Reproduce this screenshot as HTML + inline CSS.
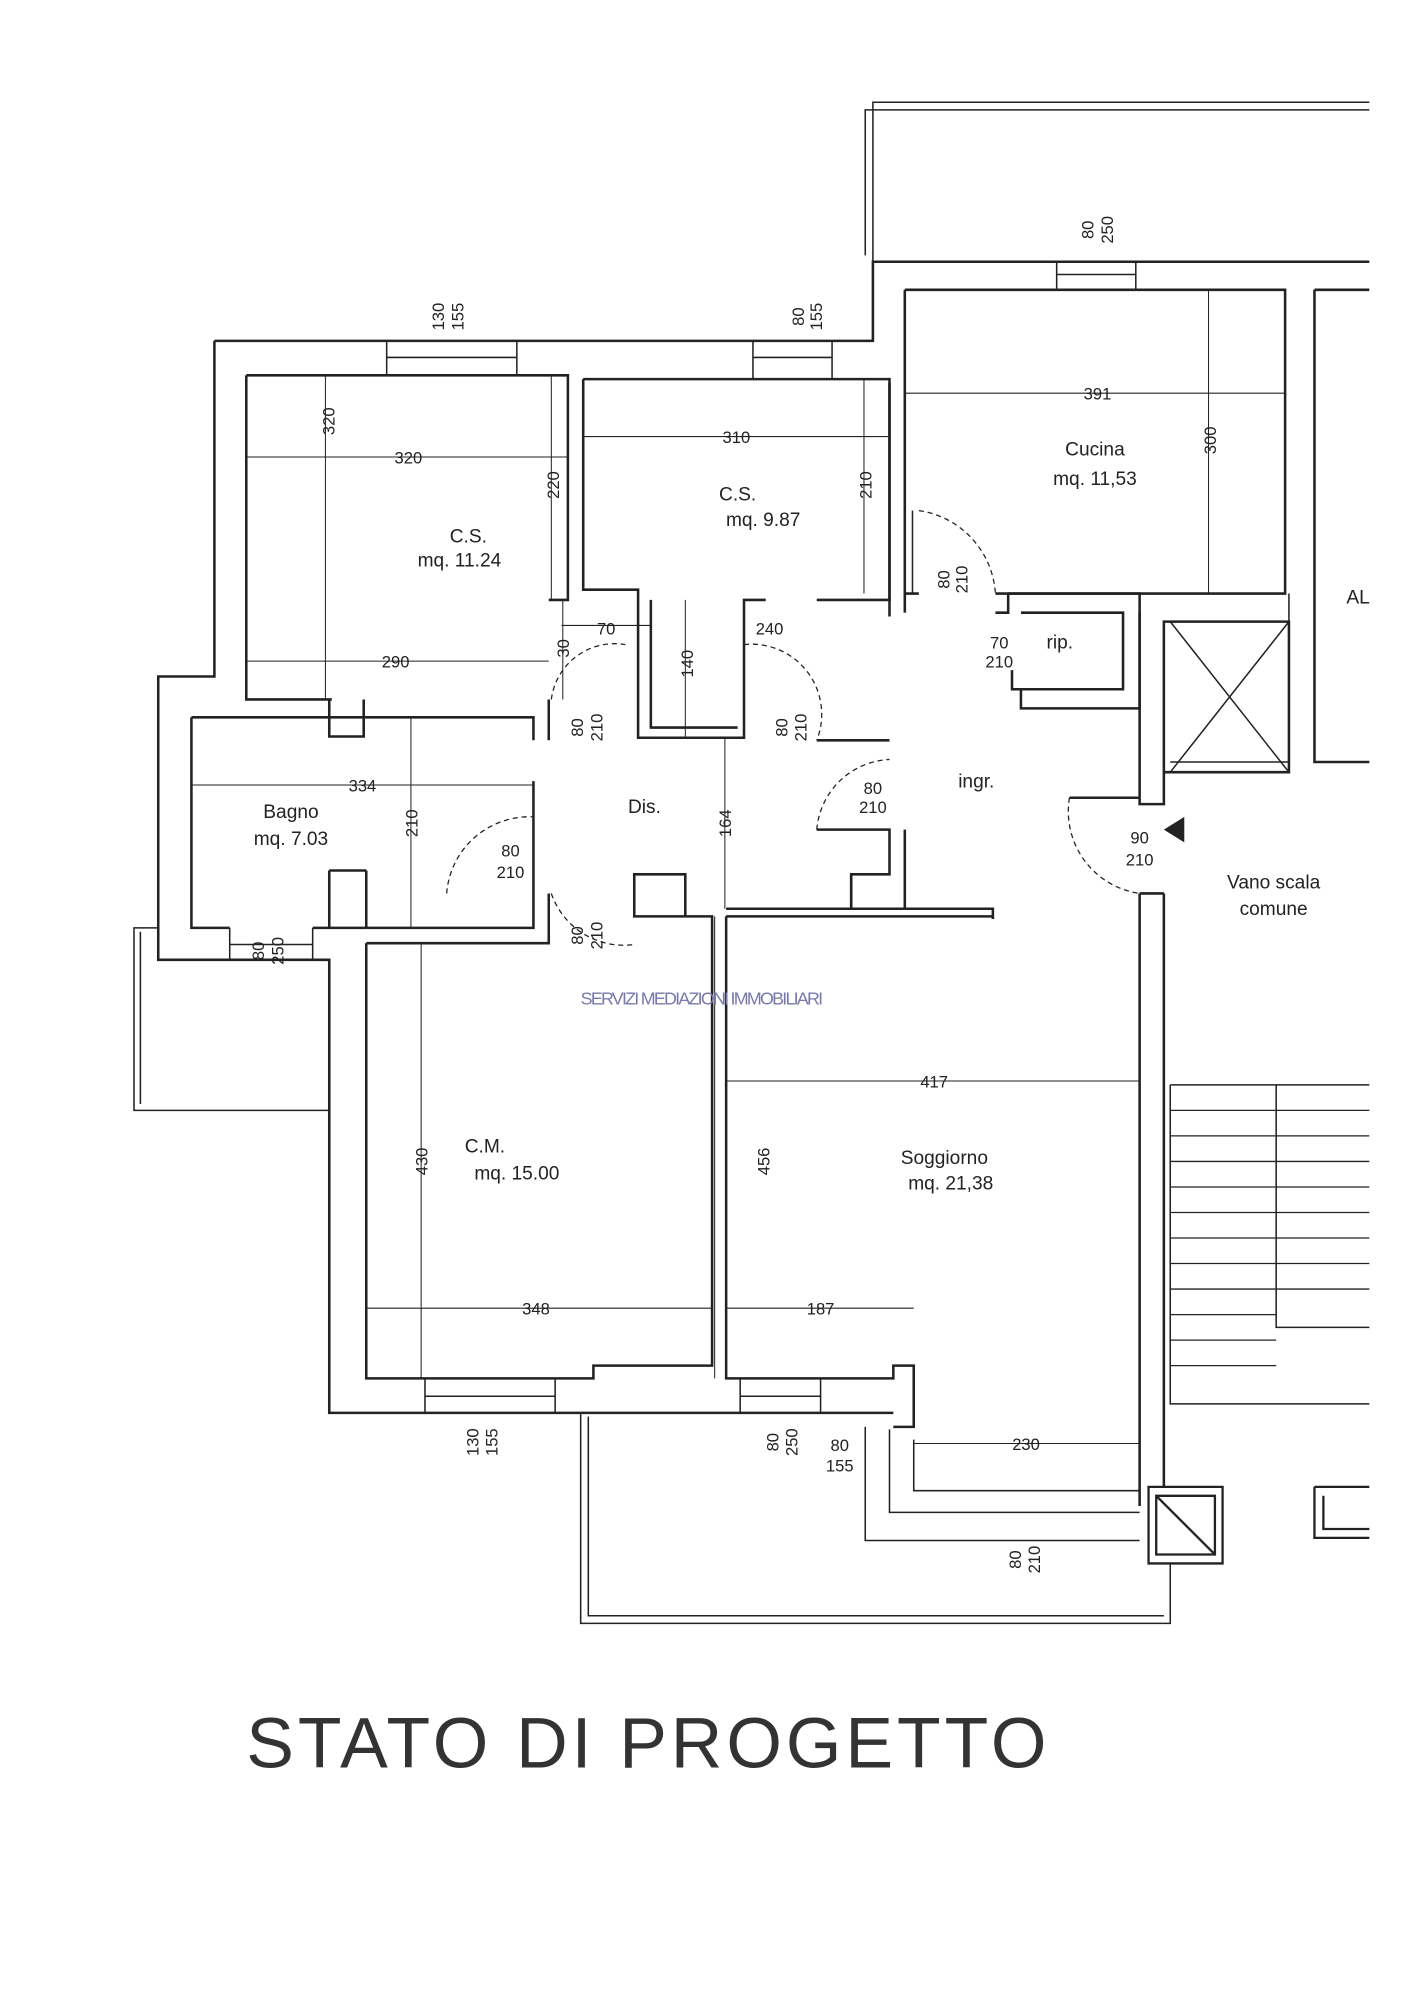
<!DOCTYPE html>
<html><head><meta charset="utf-8"><style>
html,body{margin:0;padding:0;background:#fff;}
svg{display:block}
text{font-family:"Liberation Sans",sans-serif;fill:#222}
</style></head><body>
<svg width="1414" height="2000" viewBox="0 0 1108 1567" xmlns="http://www.w3.org/2000/svg">
<g fill="none" stroke="#222" stroke-width="2">
<!-- balconies -->
<path d="M684 205 V80 H1073" stroke-width="1.2"/>
<path d="M678 200 V86 H1073" stroke-width="1.2"/>
<path d="M124 727 H105 V870 H258" stroke-width="1.2"/>
<path d="M110 730 V865" stroke-width="1.2"/>
<path d="M455 1107 V1272 H917 V1225" stroke-width="1.2"/>
<path d="M461 1110 V1266 H912" stroke-width="1.2"/>
<path d="M678 1118 V1207 H893 M697 1120 V1185 H893 M716 1128 V1168 H893" stroke-width="1.2"/>
<!-- outer wall outer line -->
<path d="M168 267 H684 V205 H1073 M168 267 V530 H124 V752 H258 V1107 H700 M893 700 V1180"/>
<path d="M912 700 V1165 M893 700 H912"/>
<!-- outer wall inner line -->
<path d="M193 294 V548 H260 M193 294 H445 V470 H430"/>
<path d="M457 297 H697 V470 H640 M457 297 V462 H500 V578 H583 V470 H600"/>
<path d="M510 470 V570 H578"/>
<path d="M709 227 H1007 V465 H780 M709 227 V465 H720"/>
<path d="M697 300 V483 M709 465 V480"/>
<path d="M150 562 H418 V580 M150 562 V727 H180 M418 612 V727 H287"/>
<path d="M287 727 H245"/>
<path d="M430 548 H430 V580 M430 700 V740"/>
<path d="M287 739 H430 M287 739 V1080 H465 V1070 H558 V718 H497 V685 H537 V718"/>
<path d="M569 718 H778 M569 718 V1080 H700 V1070 H716 V1118 H700"/>
<path d="M569 712 H778 V720"/>
<path d="M640 580 H697 M640 650 H697 V685 H667 V712"/>
<path d="M709 650 V712"/>
<path d="M790 465 H893 V555 H800 V540 H793 V525 M790 465 V480 H780 M800 480 H880 V540 H800"/>
<path d="M893 480 V630 H912 V487 H1010 V605 H912 M1030 227 V597 H1073 M1030 227 H1073"/>
<path d="M917 487 L1010 605 M1010 487 L917 605" stroke-width="1.2"/>
<path d="M917 597 H1010 M1010 597 V465" stroke-width="1.2"/>
<path d="M838 625 H893"/>
<!-- windows -->
<path d="M303 267 V294 H405 V267 M303 280 H405 M590 267 V297 H652 V267 M590 280 H652 M828 205 V227 H890 V205 M828 215 H890 M180 727 V752 H245 V727 M180 740 H245 M333 1080 V1107 H435 V1080 M333 1094 H435 M580 1080 V1107 H643 V1080 M580 1094 H643" stroke-width="1.2"/>
<path d="M258 548 V577 H285 V548 M258 682 V727 M287 682 V727 M258 682 H287" />
<path d="M667 685 V712"/>
<!-- doors -->
<path d="M432 548 A50 50 0 0 1 490 505 M583 505 A55 55 0 0 1 640 580 M350 700 A65 65 0 0 1 418 640 M432 700 A60 60 0 0 0 497 740 M640 650 A60 60 0 0 1 697 595 M720 400 A70 70 0 0 1 780 465 M838 625 A65 65 0 0 0 893 700" stroke-width="1" stroke-dasharray="4 3"/>
<path d="M715 400 V465" stroke-width="1.2"/>
<!-- stairs -->
<path d="M917 850 H1073 M1000 850 V1040 H1073 M917 850 V1100 H1073" stroke-width="1.2"/>
<path d="M917 870H1000 M917 890H1000 M917 910H1000 M917 930H1000 M917 950H1000 M917 970H1000 M917 990H1000 M917 1010H1000 M917 1030H1000 M917 1050H1000 M917 1070H1000 M1000 870H1073 M1000 890H1073 M1000 910H1073 M1000 930H1073 M1000 950H1073 M1000 970H1073 M1000 990H1073 M1000 1010H1073" stroke-width="1"/>
<path d="M900 1165 H958 V1225 H900 Z M906 1172 H952 V1218 H906 Z M906 1172 L952 1218 M1030 1165 H1073 M1030 1165 V1205 H1073 M1037 1172 V1198 H1073" stroke-width="1.8"/>
<!-- dimension lines -->
<g stroke-width="0.8">
<path d="M193 358 H445 M193 518 H430 M457 342 H697 M709 308 H1007 M150 615 H418 M287 1025 H558 M569 1025 H716 M569 847 H893 M716 1131 H893 M255 294 V548 M432 294 V470 M441 470 V548 M677 297 V465 M947 227 V465 M322 562 V727 M330 739 V1080 M560 718 V1080 M537 470 V578 M568 578 V712 M440 490 H510"/>
</g>
</g>
<polygon points="928,660 912,650 928,640" fill="#222"/>
<g font-size="13">
<text x="320" y="363" text-anchor="middle">320</text>
<text x="310" y="523" text-anchor="middle">290</text>
<text x="577" y="347" text-anchor="middle">310</text>
<text x="860" y="313" text-anchor="middle">391</text>
<text x="284" y="620" text-anchor="middle">334</text>
<text x="420" y="1030" text-anchor="middle">348</text>
<text x="643" y="1030" text-anchor="middle">187</text>
<text x="732" y="852" text-anchor="middle">417</text>
<text x="804" y="1136" text-anchor="middle">230</text>
<text x="603" y="497" text-anchor="middle">240</text>
<text x="475" y="497" text-anchor="middle">70</text>
<text x="367" y="425" font-size="15" text-anchor="middle">C.S.</text>
<text x="360" y="444" font-size="15" text-anchor="middle">mq.  11.24</text>
<text x="578" y="392" font-size="15" text-anchor="middle">C.S.</text>
<text x="598" y="412" font-size="15" text-anchor="middle">mq.  9.87</text>
<text x="858" y="357" font-size="15" text-anchor="middle">Cucina</text>
<text x="858" y="380" font-size="15" text-anchor="middle">mq.  11,53</text>
<text x="228" y="641" font-size="15" text-anchor="middle">Bagno</text>
<text x="228" y="662" font-size="15" text-anchor="middle">mq.  7.03</text>
<text x="505" y="637" font-size="15" text-anchor="middle">Dis.</text>
<text x="765" y="617" font-size="15" text-anchor="middle">ingr.</text>
<text x="820" y="508" font-size="15">rip.</text>
<text x="380" y="903" font-size="15" text-anchor="middle">C.M.</text>
<text x="405" y="924" font-size="15" text-anchor="middle">mq.  15.00</text>
<text x="740" y="912" font-size="15" text-anchor="middle">Soggiorno</text>
<text x="745" y="932" font-size="15" text-anchor="middle">mq.  21,38</text>
<text x="998" y="696" font-size="15" text-anchor="middle">Vano scala</text>
<text x="998" y="717" font-size="15" text-anchor="middle">comune</text>
<text x="1055" y="473" font-size="15">AL</text>
<text x="893" y="661" text-anchor="middle">90</text><text x="893" y="678" text-anchor="middle">210</text>
<text x="400" y="671" text-anchor="middle">80</text><text x="400" y="688" text-anchor="middle">210</text>
<text x="684" y="622" text-anchor="middle">80</text><text x="684" y="637" text-anchor="middle">210</text>
<text x="783" y="508" text-anchor="middle">70</text><text x="783" y="523" text-anchor="middle">210</text>
<text x="658" y="1137" text-anchor="middle">80</text><text x="658" y="1153" text-anchor="middle">155</text>
<g transform="rotate(-90)">
<text x="-330" y="262" text-anchor="middle">320</text>
<text x="-380" y="438" text-anchor="middle">220</text>
<text x="-508" y="446" text-anchor="middle">30</text>
<text x="-380" y="683" text-anchor="middle">210</text>
<text x="-345" y="953" text-anchor="middle">300</text>
<text x="-520" y="543" text-anchor="middle">140</text>
<text x="-645" y="573" text-anchor="middle">164</text>
<text x="-645" y="327" text-anchor="middle">210</text>
<text x="-910" y="335" text-anchor="middle">430</text>
<text x="-910" y="603" text-anchor="middle">456</text>
<text x="-248" y="348" text-anchor="middle">130</text><text x="-248" y="363" text-anchor="middle">155</text>
<text x="-248" y="630" text-anchor="middle">80</text><text x="-248" y="644" text-anchor="middle">155</text>
<text x="-180" y="857" text-anchor="middle">80</text><text x="-180" y="872" text-anchor="middle">250</text>
<text x="-454" y="744" text-anchor="middle">80</text><text x="-454" y="758" text-anchor="middle">210</text>
<text x="-570" y="457" text-anchor="middle">80</text><text x="-570" y="472" text-anchor="middle">210</text>
<text x="-570" y="617" text-anchor="middle">80</text><text x="-570" y="632" text-anchor="middle">210</text>
<text x="-733" y="457" text-anchor="middle">80</text><text x="-733" y="472" text-anchor="middle">210</text>
<text x="-745" y="207" text-anchor="middle">80</text><text x="-745" y="222" text-anchor="middle">250</text>
<text x="-1130" y="375" text-anchor="middle">130</text><text x="-1130" y="390" text-anchor="middle">155</text>
<text x="-1130" y="610" text-anchor="middle">80</text><text x="-1130" y="625" text-anchor="middle">250</text>
<text x="-1222" y="800" text-anchor="middle">80</text><text x="-1222" y="815" text-anchor="middle">210</text>
</g>
</g>
<text x="550" y="787" font-size="14" fill="#6a6aa0" style="fill:#7a78a8" text-anchor="middle" textLength="190">SERVIZI MEDIAZIONI IMMOBILIARI</text>
<text x="193" y="1385" font-size="56" style="fill:#333" textLength="627">STATO DI PROGETTO</text>
</svg>
</body></html>
